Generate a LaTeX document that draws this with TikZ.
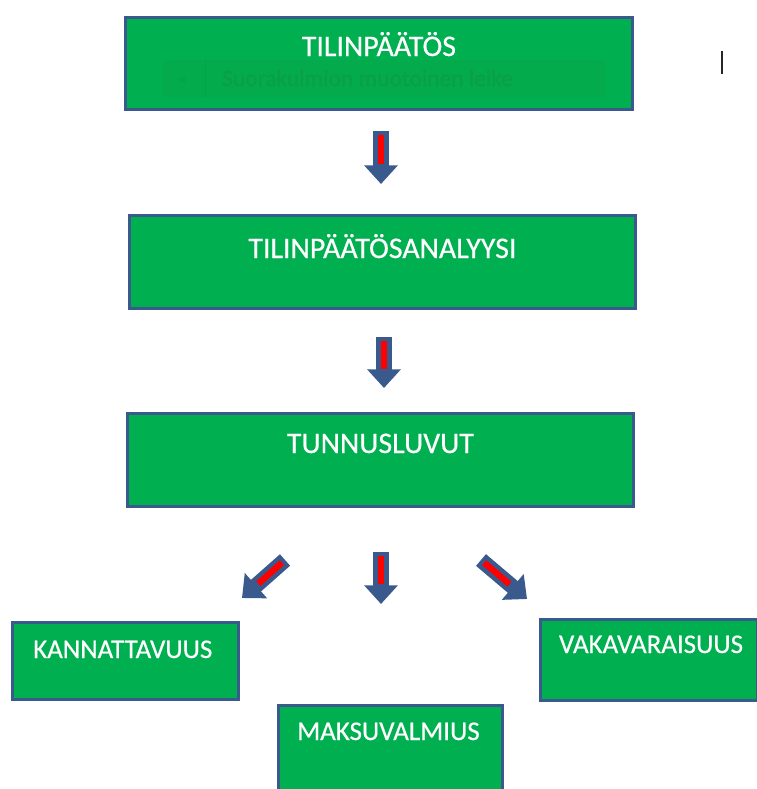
\documentclass[tikz,border=0pt]{standalone}
\usepackage{fontspec}
\setmainfont{Carlito}
\newfontfamily\boxfont[FakeBold=0.5]{Carlito}
\usetikzlibrary{arrows.meta,calc}

\definecolor{boxgreen}{HTML}{00B050}
\definecolor{boxblue}{HTML}{3A5A8E}
\definecolor{ghostgreen}{HTML}{07A84C}
\definecolor{ghosttext}{HTML}{0A9F48}

\tikzset{
  box/.style={draw=boxblue, fill=boxgreen, line width=2.4pt, rectangle,
    inner sep=0pt, anchor=north west},
  lbl/.style={text=white, font=\boxfont\fontsize{25.5}{28}\selectfont, anchor=base},
  smalllbl/.style={lbl, font=\boxfont\fontsize{23}{26}\selectfont},
  bigarrow/.style={draw=boxblue, line width=0.46cm,
    -{Triangle[length=0.56cm,width=0.98cm]}},
  redstripe/.style={draw=red, line width=0.19cm}
}

\begin{document}
\begin{tikzpicture}[x=0.03cm,y=-0.03cm]
\useasboundingbox (0,0) rectangle (756,789);

% boxes
\node[box, minimum width=15.21cm, minimum height=2.76cm] (t1) at (124,16) {};
\node[box, minimum width=15.18cm, minimum height=2.79cm] (t2) at (128,214) {};
\node[box, minimum width=15.18cm, minimum height=2.79cm] (t3) at (126,412) {};
\node[box, minimum width=6.78cm, minimum height=2.31cm] (k) at (11,621) {};
\node[box, minimum width=6.51cm, minimum height=2.43cm] (v) at (539,618) {};
\node[box, minimum width=6.72cm, minimum height=2.85cm] (m) at (277,704) {};

% faint tooltip left over in the first box
\fill[ghostgreen, opacity=0.5] (163,60) rectangle (606,97);
\draw[ghostgreen!80!black, opacity=0.2, line width=0.4pt] (205,60) -- (205,97);
\fill[ghosttext, opacity=0.6] (183,80) circle (3);
\node[text=ghosttext, anchor=west, font=\boxfont\fontsize{20}{23}\selectfont]
  (tip) at (218,78) {Suorakulmion muotoinen leike};

% texts
\node[lbl] (t1l) at ([yshift=-1.20cm]t1.north) {TILINPÄÄTÖS};
\node[lbl] (t2l) at ([yshift=-1.32cm]t2.north) {TILINPÄÄTÖSANALYYSI};
\node[lbl] (t3l) at ([yshift=-1.23cm]t3.north) {TUNNUSLUVUT};
\node[smalllbl] (kl) at ([yshift=-1.11cm,xshift=-0.08cm]k.north) {KANNATTAVUUS};
\node[smalllbl] (vl) at (651,653) {VAKAVARAISUUS};
\node[smalllbl] (ml) at ([yshift=-1.08cm,xshift=-0.06cm]m.north) {MAKSUVALMIUS};

% cursor
\draw[black!85, line width=1.2pt] (722,51) -- (722,74);

% arrow ends
\coordinate (a1) at (381,131);
\coordinate (a1e) at (381,184);
\coordinate (a2) at (384,337);
\coordinate (a2e) at (384,388);
\coordinate (a3) at (381,552);
\coordinate (a3e) at (381,604);
\coordinate (a4) at (285,560);
\coordinate (a4e) at (242,598);
\coordinate (a5) at (481,560);
\coordinate (a5e) at (527,599);

% block arrows with a red middle
\foreach \s/\e in {a1/a1e,a2/a2e,a3/a3e,a4/a4e,a5/a5e}{
  \draw[bigarrow] (\s) -- (\e);
  \draw[redstripe] ($(\s)!0.07!(\e)$) -- ($(\e)!0.38!(\s)$);
}
\end{tikzpicture}
\end{document}
